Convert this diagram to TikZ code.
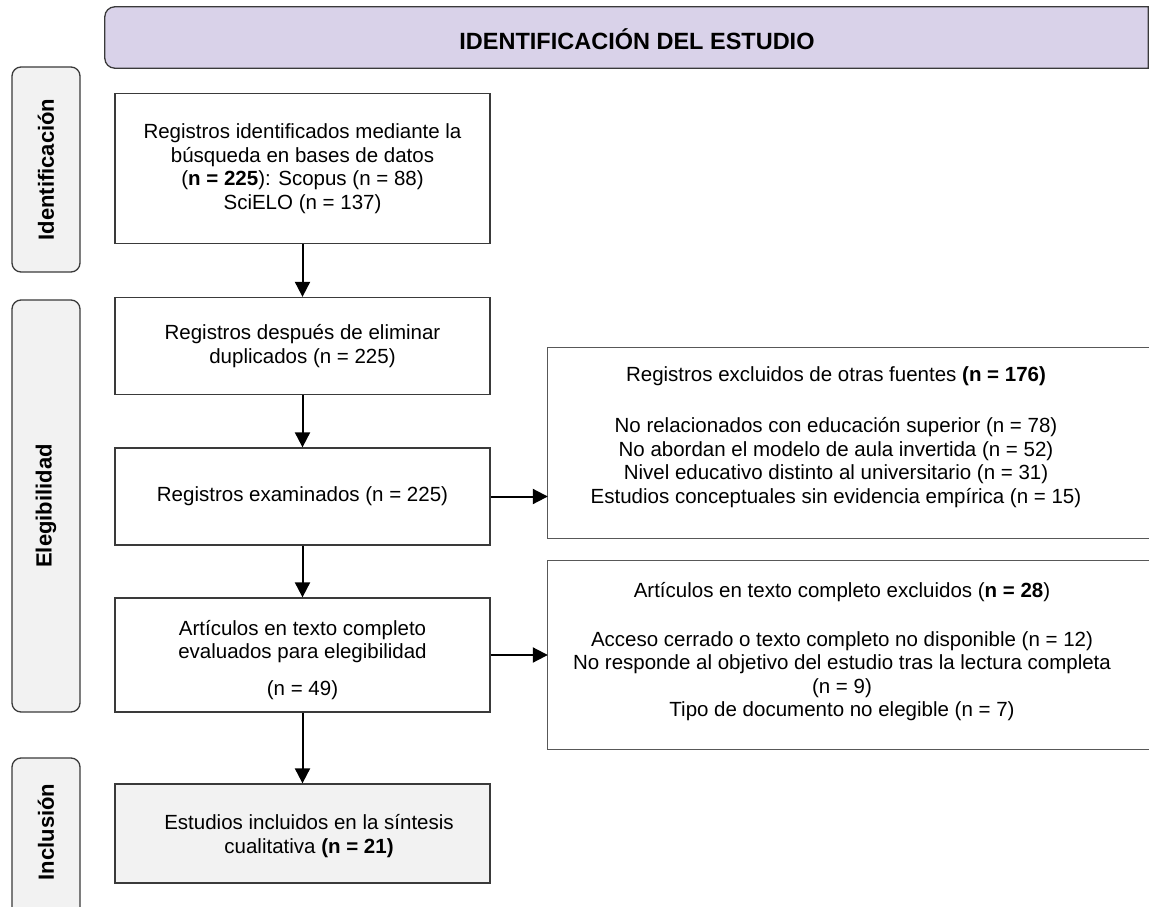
\documentclass[tikz,border=0pt]{standalone}
\usepackage{fontspec}
\setmainfont{Liberation Sans}
\usetikzlibrary{arrows.meta}
\definecolor{lav}{HTML}{D9D2E9}
\definecolor{lgray}{HTML}{F2F2F2}
\definecolor{bord}{HTML}{3A3A3A}
\begin{document}
\begin{tikzpicture}[x=1pt,y=-1pt,
  txt/.style={font=\fontsize{20.5}{23.5}\selectfont, align=center, inner sep=0pt},
  mainbox/.style={draw=bord, line width=1.3pt, minimum width=375pt, inner sep=0pt, fill=white},
  sidebox/.style={draw=bord, line width=1.3pt, rounded corners=9pt, fill=lgray, minimum width=68pt, inner sep=0pt},
  sidetxt/.style={font=\fontsize{22}{26}\bfseries\selectfont, rotate=90},
  rbox/.style={minimum width=601pt, inner sep=0pt},
  rline/.style={draw=bord!85, line width=1.3pt},
  arr/.style={line width=2pt, -{Triangle[length=15pt,width=15pt]}}]
\useasboundingbox (0,0) rectangle (1149,907);
\fill[white] (0,0) rectangle (1149,907);
% header
\node[minimum width=1043pt, minimum height=61pt, inner sep=0pt] (head) at (626.5,37.5) {};
\filldraw[draw=bord, fill=lav, line width=1.3pt] (head.north east) [rounded corners=10pt]-- (head.north west) -- (head.south west) [sharp corners]-- (head.south east) -- cycle;
\node[font=\fontsize{23.5}{27}\bfseries\selectfont, inner sep=0pt] (headt) at (637,39.5) {IDENTIFICACIÓN DEL ESTUDIO};
% side labels
\node[sidebox, minimum height=205pt] (sid) at (46,169.5) {};
\node[sidetxt] (sidt) at (sid.center) {Identificación};
\node[sidebox, minimum height=412pt] (sel) at (46,506) {};
\node[sidetxt] (selt) at (sel.center) {Elegibilidad};
\node[sidebox, minimum height=160pt] (sin) at (46,838) {};
\node[sidetxt] (sint) at (46,832) {Inclusión};
% main column
\node[mainbox, minimum height=150pt] (b1) at (302.5,168.5) {};
\node[txt] (b1t) at (b1.center) {Registros identificados mediante la\\ búsqueda en bases de datos\\ (\textbf{n = 225}): Scopus (n = 88)\\ SciELO (n = 137)};
\node[mainbox, minimum height=97pt] (b2) at (302.5,346) {};
\node[txt] (b2t) at (b2.center) {Registros después de eliminar\\ duplicados (n = 225)};
\node[mainbox, minimum height=97pt] (b3) at (302.5,496.5) {};
\node[txt] (b3t) at (b3.center) {Registros examinados (n = 225)};
\node[mainbox, minimum height=114pt] (b4) at (302.5,655) {};
\node[txt] (b4t) at (302.5,660) {Artículos en texto completo\\ evaluados para elegibilidad\\[13pt] (n = 49)};
\node[mainbox, minimum height=99pt, fill=lgray] (b5) at (302.5,833.5) {};
\node[txt] (b5t) at (309,836) {Estudios incluidos en la síntesis\\ cualitativa \textbf{(n = 21)}};
% right column
\node[rbox, minimum height=190pt] (r1) at (848.5,443) {};
\draw[rline] (r1.north east) -- (r1.north west) -- (r1.south west) -- (r1.south east);
\node[txt] (r1t) at (836,437) {Registros excluidos de otras fuentes \textbf{(n = 176)}\\[28pt]
No relacionados con educación superior (n = 78)\\
No abordan el modelo de aula invertida (n = 52)\\
Nivel educativo distinto al universitario (n = 31)\\
Estudios conceptuales sin evidencia empírica (n = 15)};
\node[rbox, minimum height=188pt] (r2) at (848.5,655) {};
\draw[rline] (r2.north east) -- (r2.north west) -- (r2.south west) -- (r2.south east);
\node[txt] (r2t) at (842,652) {Artículos en texto completo excluidos (\textbf{n = 28})\\[25pt]
Acceso cerrado o texto completo no disponible (n = 12)\\
No responde al objetivo del estudio tras la lectura completa\\
(n = 9)\\
Tipo de documento no elegible (n = 7)};
% arrows
\draw[arr] (b1) -- (b2);
\draw[arr] (b2) -- (b3);
\draw[arr] (b3) -- (b4);
\draw[arr] (b4) -- (b5);
\draw[arr] (b3) -- (b3 -| r1.west);
\draw[arr] (b4) -- (b4 -| r2.west);
\end{tikzpicture}
\end{document}
